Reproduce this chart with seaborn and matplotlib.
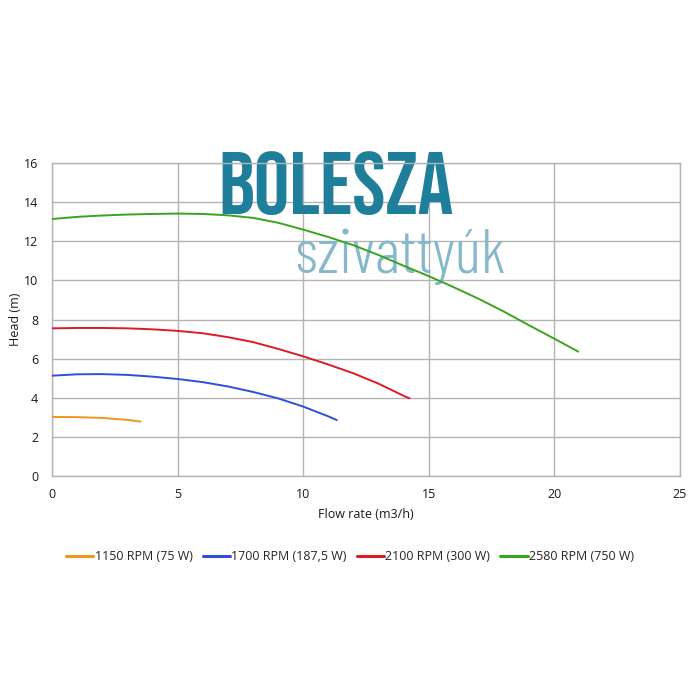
import pandas as pd
import matplotlib
matplotlib.use("Agg")
import matplotlib.pyplot as plt
import seaborn as sns

# Pump curves (flow m3/h, head m)
flow_1150 = [0, 1, 2, 3, 3.53]
head_1150 = [3.02, 3.01, 2.97, 2.87, 2.78]

flow_1700 = [0, 1, 2, 3, 4, 5, 6, 7, 8, 9, 10, 11, 11.34]
head_1700 = [5.13, 5.20, 5.21, 5.17, 5.08, 4.96, 4.80, 4.58, 4.30, 3.97, 3.55, 3.05, 2.86]

flow_2100 = [0, 1, 2, 3, 4, 5, 6, 7, 8, 9, 10, 11, 12, 13, 14, 14.23]
head_2100 = [7.55, 7.57, 7.57, 7.55, 7.50, 7.42, 7.30, 7.10, 6.85, 6.50, 6.12, 5.70, 5.25, 4.72, 4.10, 3.97]

flow_2580 = [0, 1, 2, 3, 4, 5, 6, 7, 8, 9, 10, 11, 12, 13, 14, 15, 16, 17, 18, 19, 20, 20.95]
head_2580 = [13.14, 13.25, 13.32, 13.37, 13.40, 13.42, 13.40, 13.33, 13.20, 12.95, 12.60, 12.22,
             11.80, 11.30, 10.75, 10.22, 9.65, 9.05, 8.40, 7.70, 7.02, 6.36]

series_labels = ["1150 RPM (75 W)", "1700 RPM (187,5 W)", "2100 RPM (300 W)", "2580 RPM (750 W)"]
series_colors = ["#f0961e", "#2f4fd8", "#dc1c24", "#3aa41e"]

x_ticks = [0, 5, 10, 15, 20, 25]
y_ticks = [0, 2, 4, 6, 8, 10, 12, 14, 16]

frames = []
for label, xs, ys in zip(series_labels,
                         [flow_1150, flow_1700, flow_2100, flow_2580],
                         [head_1150, head_1700, head_2100, head_2580]):
    frames.append(pd.DataFrame({"flow": xs, "head": ys, "pump": label}))
df = pd.concat(frames, ignore_index=True)

sns.set_style("white")
plt.rcParams["font.family"] = ["Open Sans", "DejaVu Sans"]

fig = plt.figure(figsize=(7, 7), dpi=100)
ax = fig.add_axes([0.0743, 0.32, 0.8971, 0.447])

sns.lineplot(data=df, x="flow", y="head", hue="pump", hue_order=series_labels,
             palette=series_colors, linewidth=1.4, sort=False, legend=False, ax=ax, zorder=3)

ax.set_xlim(0, 25)
ax.set_ylim(0, 16)
ax.set_xticks(x_ticks)
ax.set_yticks(y_ticks)
ax.grid(True, color="#b4b4b4", linewidth=1.0)
ax.set_axisbelow(True)
for s in ax.spines.values():
    s.set_color("#b4b4b4")
    s.set_linewidth(1.0)
ax.tick_params(axis="both", length=0, labelsize=9, colors="#1a1a1a")
ax.tick_params(axis="x", pad=9)
ax.tick_params(axis="y", pad=10)
ax.set_xlabel("Flow rate (m3/h)", fontsize=9, labelpad=5, color="#1a1a1a")
ax.set_ylabel("Head (m)", fontsize=9, labelpad=1, color="#1a1a1a")

# watermark logo
ax.text(0.453, 0.935, "BOLESZA", transform=ax.transAxes, ha="center", va="center",
        fontsize=64, family=["Bebas Neue", "DejaVu Sans"], color="#1f7f9a", zorder=2)
ax.text(0.554, 0.70, "szivattyúk", transform=ax.transAxes, ha="center", va="center",
        fontsize=45, fontweight=300, family=["Barlow Condensed", "DejaVu Sans"],
        color="#85b8ca", zorder=2)

handles = [plt.Line2D([], [], color=c, linewidth=2.2) for c in series_colors]
fig.legend(handles, series_labels, loc="center", bbox_to_anchor=(0.5, 0.205), ncol=4,
           frameon=False, fontsize=9, handlelength=2.2, handletextpad=0.1, columnspacing=0.8)

fig.savefig("out.png", dpi=100)
